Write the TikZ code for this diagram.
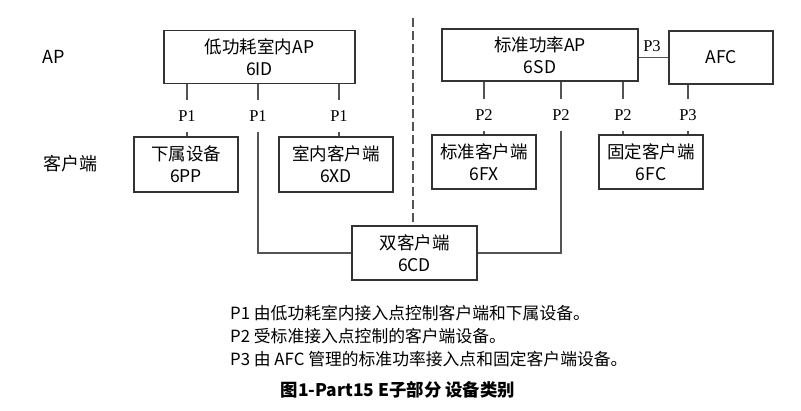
\documentclass[tikz,border=0pt]{standalone}
\usepackage{fontspec}
\setmainfont{Noto Sans CJK SC}
\newfontfamily\pfont{Liberation Serif}
\usepackage{xcolor}
\definecolor{boxgray}{gray}{0.2}
\definecolor{linkgray}{gray}{0.33}

\tikzset{
	box/.style = {draw = boxgray, line width = 1.4pt, align = center, inner sep = 0pt,
		font = \fontsize{17.5}{22}\selectfont},
	lbl/.style = {inner sep = 0pt, minimum height = 32pt, font = \pfont\fontsize{16.5}{16}\selectfont},
	link/.style = {draw = linkgray, line width = 1.6pt},
	txt/.style = {inner sep = 0pt, font = \fontsize{16.8}{20}\selectfont}
}

\begin{document}
\begin{tikzpicture}[x = 1pt, y = -1pt]
		\useasboundingbox (0,0) rectangle (801,410);
		% row titles
		\node[txt, font = \fontsize{18}{20}\selectfont] (aplbl) at (54,57) {AP};
		\node[txt, font = \fontsize{18}{20}\selectfont] (cllbl) at (70,164) {客户端};
		% access points
		\node[box, minimum width = 191pt, minimum height = 53pt] (id) at (259.5,57) {低功耗室内AP\\6ID};
		\node[box, minimum width = 196pt, minimum height = 52pt] (sd) at (540,55) {标准功率AP\\6SD};
		\node[box, minimum width = 104pt, minimum height = 53pt] (afc) at (721,57.5) {AFC};
		% clients
		\node[box, minimum width = 104pt, minimum height = 55pt] (pp) at (186,164.5) {下属设备\\6PP};
		\node[box, minimum width = 114pt, minimum height = 55pt] (xd) at (336,164.5) {室内客户端\\6XD};
		\node[box, minimum width = 104pt, minimum height = 54pt] (fx) at (484,162) {标准客户端\\6FX};
		\node[box, minimum width = 104pt, minimum height = 54pt] (fc) at (651,162) {固定客户端\\6FC};
		\node[box, minimum width = 125pt, minimum height = 54pt] (cd) at (414.5,253) {双客户端\\6CD};
		% link labels
		\node[lbl] (p1a) at (187,116) {P1};
		\node[lbl] (p1b) at (258,116) {P1};
		\node[lbl] (p1c) at (339,116) {P1};
		\node[lbl] (p2a) at (484,115) {P2};
		\node[lbl] (p2b) at (561,115) {P2};
		\node[lbl] (p2c) at (623,115) {P2};
		\node[lbl] (p3b) at (688,115) {P3};
		\node[lbl, minimum height = 0pt] (p3a) at (652,46) {P3};
		% links
		\draw[link] (id.south -| p1a) -- (p1a.north);
		\draw[link] (p1a.south) -- (pp.north -| p1a);
		\draw[link] (id.south -| p1c) -- (p1c.north);
		\draw[link] (p1c.south) -- (xd.north -| p1c);
		\draw[link] (id.south -| p1b) -- (p1b.north);
		\draw[link] (p1b.south) |- (cd.west);
		\draw[link] (sd.south -| p2a) -- (p2a.north);
		\draw[link] (p2a.south) -- (fx.north -| p2a);
		\draw[link] (sd.south -| p2c) -- (p2c.north);
		\draw[link] (p2c.south) -- (fc.north -| p2c);
		\draw[link] (sd.south -| p2b) -- (p2b.north);
		\draw[link] (p2b.south) |- (cd.east);
		\draw[link] (afc.south -| p3b) -- (p3b.north);
		\draw[link] (p3b.south) -- (fc.north -| p3b);
		\draw[link] (afc.west -| sd.east) -- (afc.west);
		% separator
		\coordinate (septop) at (413,18);
		\draw[link, dash pattern = on 9pt off 4pt] (septop) -- (cd.north -| septop);
		% legend
		\node[txt, anchor = west] (leg1) at (230,313) {P1 由低功耗室内接入点控制客户端和下属设备。};
		\node[txt, anchor = west] (leg2) at (230,336) {P2 受标准接入点控制的客户端设备。};
		\node[txt, anchor = west] (leg3) at (230,359) {P3 由 AFC 管理的标准功率接入点和固定客户端设备。};
		\node[txt, font = \bfseries\fontsize{17.4}{20}\selectfont] (cap) at (398,390) {图1-Part15 E子部分 设备类别};
	\end{tikzpicture}
\end{document}
